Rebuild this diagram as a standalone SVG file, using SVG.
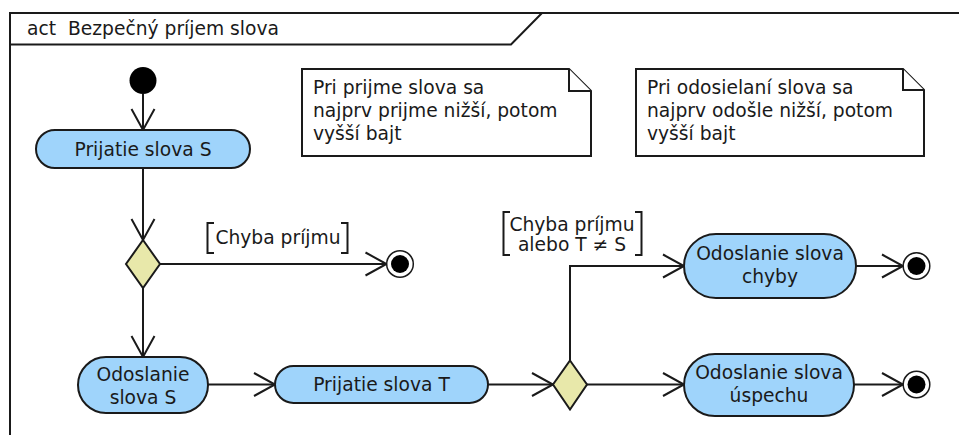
<svg xmlns="http://www.w3.org/2000/svg" width="959" height="435" viewBox="0 0 959 435">
  <style>
    text { font-family: "DejaVu Sans", "Liberation Sans", sans-serif; font-size: 18.7px; fill: #1a1a1a; }
    .mid { text-anchor: middle; }
    .frame { fill: none; stroke: #1a1a1a; stroke-width: 2; }
    .action { fill: #9fd4fb; stroke: #1a1a1a; stroke-width: 2; }
    .decision { fill: #e8e8aa; stroke: #1a1a1a; stroke-width: 2; }
    .note { fill: #ffffff; stroke: #1a1a1a; stroke-width: 2; stroke-linejoin: miter; }
    .flow { fill: none; stroke: #1a1a1a; stroke-width: 2; marker-end: url(#open); }
    .bracket { fill: none; stroke: #1a1a1a; stroke-width: 2; }
    .start { fill: #000000; }
    .endring { fill: #ffffff; stroke: #1a1a1a; stroke-width: 1.5; }
  </style>
  <defs>
    <marker id="open" markerUnits="userSpaceOnUse" markerWidth="24" markerHeight="26" viewBox="-22 -13 24 26" refX="0" refY="0" orient="auto" overflow="visible">
      <path d="M -21 -11.5 L 0 0 L -21 11.5" fill="none" stroke="#1a1a1a" stroke-width="2"/>
    </marker>
  </defs>

  <!-- activity frame -->
  <g id="frame">
    <rect class="frame" x="10" y="13" width="970" height="440"/>
    <path class="frame" d="M 10 44.5 L 511 44.5 L 542 13"/>
    <text x="27" y="34.5" xml:space="preserve">act  Bezpečný príjem slova</text>
  </g>

  <!-- control flows -->
  <g id="connectors">
    <line class="flow" x1="143" y1="94" x2="143" y2="130"/>
    <line class="flow" x1="143" y1="168" x2="143" y2="240"/>
    <line class="flow" x1="160" y1="264" x2="386.5" y2="264"/>
    <line class="flow" x1="143" y1="288" x2="143" y2="357"/>
    <line class="flow" x1="208" y1="384.5" x2="275" y2="384.5"/>
    <line class="flow" x1="488" y1="384.5" x2="553" y2="384.5"/>
    <line class="flow" x1="587" y1="384.5" x2="684" y2="384.5"/>
    <line class="flow" x1="854" y1="384.5" x2="903" y2="384.5"/>
    <polyline class="flow" points="570,360.5 570,266 684,266"/>
    <line class="flow" x1="856" y1="266" x2="903" y2="266"/>
  </g>

  <!-- guards -->
  <g id="guard-error">
    <path class="bracket" d="M 214 223 L 207.5 223 L 207.5 253 L 214 253"/>
    <path class="bracket" d="M 341 223 L 347.5 223 L 347.5 253 L 341 253"/>
    <text class="mid" x="278" y="244">Chyba príjmu</text>
  </g>
  <g id="guard-mismatch">
    <path class="bracket" d="M 510 212 L 503.5 212 L 503.5 255 L 510 255"/>
    <path class="bracket" d="M 635 212 L 641.5 212 L 641.5 255 L 635 255"/>
    <text class="mid" x="572" y="230.5">Chyba príjmu</text>
    <text class="mid" x="572" y="250.5">alebo T ≠ S</text>
  </g>

  <!-- nodes -->
  <g id="start">
    <circle class="start" cx="143" cy="80.5" r="13.5"/>
  </g>

  <g id="prijatie-s">
    <rect class="action" x="36" y="130" width="214" height="38" rx="19" ry="19"/>
    <text class="mid" x="143" y="155.5">Prijatie slova S</text>
  </g>

  <g id="decision-1">
    <polygon class="decision" points="143,240 160,264 143,288 126,264"/>
  </g>

  <g id="end-1">
    <circle class="endring" cx="400" cy="264" r="13.3"/>
    <circle class="start" cx="400" cy="264" r="9"/>
  </g>

  <g id="odoslanie-s">
    <rect class="action" x="78" y="357" width="130" height="56" rx="28" ry="28"/>
    <text class="mid" x="143" y="381">Odoslanie</text>
    <text class="mid" x="143" y="403.5">slova S</text>
  </g>

  <g id="prijatie-t">
    <rect class="action" x="275" y="366" width="213" height="37" rx="18.5" ry="18.5"/>
    <text class="mid" x="381.5" y="390.5">Prijatie slova T</text>
  </g>

  <g id="decision-2">
    <polygon class="decision" points="570,360.5 587,384.5 570,409.5 553,384.5"/>
  </g>

  <g id="odoslanie-chyby">
    <rect class="action" x="684" y="234" width="172" height="64" rx="32" ry="32"/>
    <text class="mid" x="770" y="260">Odoslanie slova</text>
    <text class="mid" x="770" y="283">chyby</text>
  </g>

  <g id="end-2">
    <circle class="endring" cx="916.5" cy="266" r="13.3"/>
    <circle class="start" cx="916.5" cy="266" r="9"/>
  </g>

  <g id="odoslanie-uspechu">
    <rect class="action" x="684" y="354" width="170" height="62" rx="31" ry="31"/>
    <text class="mid" x="769" y="379">Odoslanie slova</text>
    <text class="mid" x="769" y="402">úspechu</text>
  </g>

  <g id="end-3">
    <circle class="endring" cx="916.5" cy="384.5" r="13.3"/>
    <circle class="start" cx="916.5" cy="384.5" r="9"/>
  </g>

  <!-- notes -->
  <g id="note-prijem">
    <path class="note" d="M 302 69 L 569 69 L 591 91 L 591 156 L 302 156 Z"/>
    <path class="note" d="M 569 69 L 569 91 L 591 91"/>
    <text x="313" y="94">Pri prijme slova sa</text>
    <text x="313" y="117">najprv prijme nižší, potom</text>
    <text x="313" y="140">vyšší bajt</text>
  </g>

  <g id="note-odosielanie">
    <path class="note" d="M 636 69 L 903 69 L 924 90 L 924 156 L 636 156 Z"/>
    <path class="note" d="M 903 69 L 903 90 L 924 90"/>
    <text x="647" y="94">Pri odosielaní slova sa</text>
    <text x="647" y="117">najprv odošle nižší, potom</text>
    <text x="647" y="140">vyšší bajt</text>
  </g>
</svg>
